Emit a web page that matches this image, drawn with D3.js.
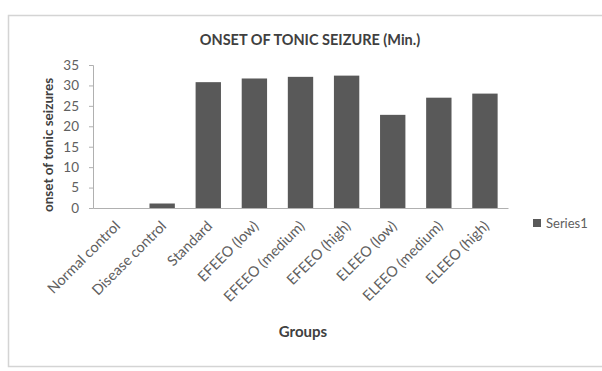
<!DOCTYPE html>
<html><head><meta charset="utf-8">
<script src="https://cdn.jsdelivr.net/npm/d3@7"></script>
<style>body{margin:0;background:#fff}svg{display:block}</style>
</head><body>
<script>
const categories = ["Normal control","Disease control","Standard","EFEEO (low)","EFEEO (medium)","EFEEO (high)","ELEEO (low)","ELEEO (medium)","ELEEO (high)"];
const values = [0, 1.1, 30.8, 31.7, 32.1, 32.4, 22.8, 27.0, 28.0];
const yTicks = [0,5,10,15,20,25,30,35];
const seriesName = "Series1";
const title = "ONSET OF TONIC SEIZURE (Min.)";
const yTitle = "onset of tonic seizures";
const xTitle = "Groups";

const W = 602, H = 371;
const font = "Lato, 'Open Sans', sans-serif";
const svg = d3.select("body").append("svg").attr("width", W).attr("height", H);
svg.append("rect").attr("x", 8.5).attr("y", 15.5).attr("width", 620).attr("height", 351)
  .attr("fill", "#fff").attr("stroke", "#d4d4d4").attr("stroke-width", 1.5);

const x = d3.scaleBand().domain(categories).range([93, 508]).paddingInner(0.45).paddingOuter(0.225);
const y = d3.scaleLinear().domain([0, 35]).range([208, 65]);

svg.append("text").attr("x", 310).attr("y", 45).attr("text-anchor", "middle")
  .attr("font-family", font).attr("font-weight", "bold").attr("font-size", 14.5)
  .attr("fill", "#404040").text(title);

const gy = svg.append("g").attr("transform", "translate(93,0)")
  .call(d3.axisLeft(y).tickValues(yTicks).tickSize(4).tickPadding(10));
gy.select(".domain").attr("stroke", "#b0b0b0");
gy.selectAll(".tick line").attr("stroke", "#b0b0b0");
gy.selectAll("text").attr("font-family", font).attr("font-size", 13.5).attr("fill", "#606060");

svg.selectAll("rect.bar").data(values).join("rect").attr("class", "bar")
  .attr("x", (d, i) => x(categories[i])).attr("width", x.bandwidth())
  .attr("y", d => y(d)).attr("height", d => y(0) - y(d)).attr("fill", "#595959");

const gx = svg.append("g").attr("transform", "translate(0,208)")
  .call(d3.axisBottom(x).tickSize(0).tickPadding(0));
gx.select(".domain").attr("stroke", "#b0b0b0");
gx.selectAll("text").attr("font-family", font).attr("font-size", 14.5).attr("fill", "#606060")
  .attr("text-anchor", "end").attr("dy", null).attr("y", 0)
  .attr("transform", "translate(5,19) rotate(-45)");

svg.append("text").attr("transform", "translate(53,145) rotate(-90)").attr("text-anchor", "middle")
  .attr("font-family", font).attr("font-weight", "bold").attr("font-size", 13.5)
  .attr("fill", "#404040").text(yTitle);

svg.append("text").attr("x", 303).attr("y", 337).attr("text-anchor", "middle")
  .attr("font-family", font).attr("font-weight", "bold").attr("font-size", 15)
  .attr("fill", "#404040").text(xTitle);

const lg = svg.append("g").attr("transform", "translate(533,223)");
lg.append("rect").attr("x", 0).attr("y", -4).attr("width", 8).attr("height", 8).attr("fill", "#595959");
lg.append("text").attr("x", 13).attr("y", 5).attr("font-family", font).attr("font-size", 13)
  .attr("fill", "#606060").text(seriesName);
</script>
</body></html>
